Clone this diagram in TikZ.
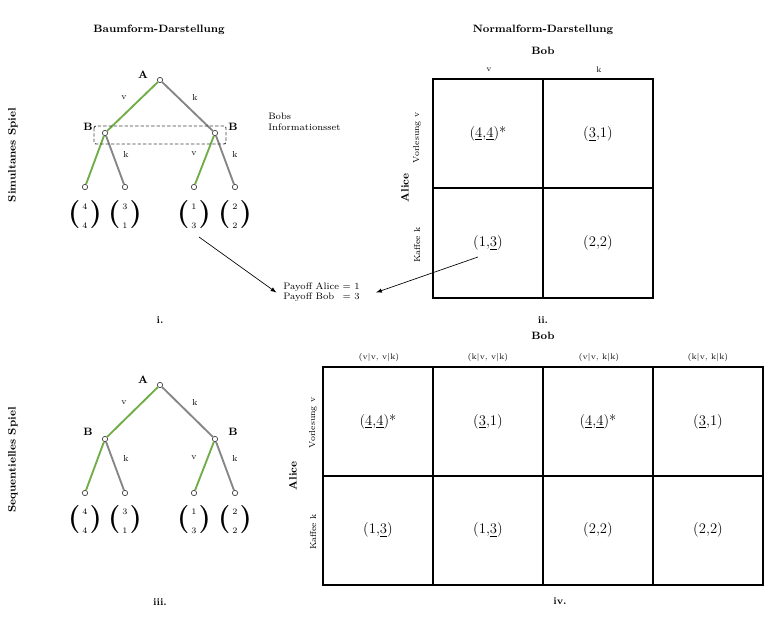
\documentclass[tikz,border=0pt]{standalone}
\usepackage{amsmath}
\usepackage{tikz}
\usetikzlibrary{arrows}
\usetikzlibrary{positioning}
\usetikzlibrary{calc}

\definecolor{astgruen}{RGB}{112,173,71}
\definecolor{astgrau}{RGB}{134,134,134}

\newcommand{\klammer}[1]{{\bfseries\fontsize{21}{21}\selectfont #1}}
\newcommand{\payvec}[2]{\klammer{(}\raisebox{3.7pt}{\fontsize{6.3}{14.2}\selectfont\begin{tabular}{@{\hspace{1.5pt}}c@{\hspace{1.5pt}}}#1\\#2\end{tabular}}\klammer{)}}

\tikzset{
  knoten/.style={circle, draw=black!75, fill=white, line width=0.5pt, inner sep=0pt, minimum size=4pt},
  gruen/.style={draw=astgruen, line width=1.4pt},
  grau/.style={draw=astgrau, line width=1.4pt},
  titel/.style={font=\bfseries\fontsize{8}{10}\selectfont},
  spieler/.style={font=\bfseries\fontsize{8}{10}\selectfont},
  zweig/.style={font=\fontsize{6.5}{8}\selectfont},
  klein/.style={font=\fontsize{7}{8.5}\selectfont},
  spalte/.style={font=\fontsize{6}{7}\selectfont},
  vektor/.style={inner sep=0pt},
  nummer/.style={font=\bfseries\fontsize{7.5}{9}\selectfont},
  zelle/.style={draw, line width=1.5pt, minimum width=82.5pt, minimum height=81.75pt, inner sep=0pt, font=\fontsize{11}{13}\selectfont},
  infoset/.style={draw=black!75, dash pattern=on 2.5pt off 1.5pt, line width=0.7pt, rounded corners=1.5pt},
  hinweis/.style={-latex, line width=0.5pt}
}

\begin{document}
\begin{tikzpicture}[x=0.75pt,y=0.75pt,yscale=-1,xscale=1]
\useasboundingbox (0,0) rectangle (768,631);

% Titles
\node[titel] (ttree) at (159,30) {Baumform-Darstellung};
\node[titel] (tnorm) at (543,30) {Normalform-Darstellung};
\node[titel, rotate=90] (tsim) at (13,155) {Simultanes Spiel};
\node[titel, rotate=90] (tseq) at (13,460) {Sequentielles Spiel};

%Simultanes Spiel: Baum
\node[knoten] (A1) at (160,80) {};
\node[knoten] (B11) at (105,133) {};
\node[knoten] (B12) at (215,133) {};
\node[knoten] (L11) at (85,187) {};
\node[knoten] (L12) at (125,187) {};
\node[knoten] (L13) at (194,187) {};
\node[knoten] (L14) at (235,187) {};
\draw[gruen] (A1) -- (B11);
\draw[grau] (A1) -- (B12);
\draw[gruen] (B11) -- (L11);
\draw[grau] (B11) -- (L12);
\draw[gruen] (B12) -- (L13);
\draw[grau] (B12) -- (L14);
% Informationsset
\draw[infoset] ($(B11)+(-11,-7)$) rectangle ($(B12)+(11,11)$);
\node[klein, anchor=west, align=left, inner sep=0pt] (tinfo) at (268,122) {Bobs\\Informationsset};
% Text Node
\node[spieler] (pA1) at (143,75) {A};
\node[spieler] (pB11) at (88,127) {B};
\node[spieler] (pB12) at (233,127) {B};
\node[zweig] (e11) at (124,98) {v};
\node[zweig] (e12) at (195,97) {k};
\node[zweig] (e14) at (126,154) {k};
\node[zweig] (e15) at (194,154) {v};
\node[zweig] (e16) at (235,154) {k};
\node[vektor] (v11) at (85,215) {\payvec{4}{4}};
\node[vektor] (v12) at (125,215) {\payvec{3}{1}};
\node[vektor] (v13) at (194,215) {\payvec{1}{3}};
\node[vektor] (v14) at (235,215) {\payvec{2}{2}};
\node[nummer] (n1) at (160,320) {i.};

%Simultanes Spiel: Normalform
\node[titel] (bob1) at (543,51) {Bob};
\node[zelle] (s11) at (488,134) {(\underline{4},\underline{4})*};
\node[zelle] (s12) at (598,134) {(\underline{3},1)};
\node[zelle] (s21) at (488,243) {(1,\underline{3})};
\node[zelle] (s22) at (598,243) {(2,2)};
\node[spalte] (c11) at (489,70) {v};
\node[spalte] (c12) at (599,70) {k};
\node[zweig, rotate=90] (r11) at (417,138) {Vorlesung v};
\node[zweig, rotate=90] (r12) at (417,245) {Kaffee k};
\node[spieler, rotate=90] (alice1) at (405,188) {Alice};
\node[nummer] (n2) at (543,320) {ii.};

% Payoff
\node[klein, anchor=west, inner sep=0pt] (pay) at (283,292.5) {\begin{tabular}{@{}l@{ }l@{}}Payoff Alice & = 1\\[-1pt] Payoff Bob & = 3\end{tabular}};
\draw[hinweis] ($(v13)+(5,22)$) -- ([xshift=-5pt]pay.west);
\draw[hinweis] ($(s21)+(-10,14)$) -- ([xshift=12pt]pay.east);

%Sequentielles Spiel: Baum
\node[knoten] (A2) at (160,385) {};
\node[knoten] (B21) at (105,439) {};
\node[knoten] (B22) at (215,439) {};
\node[knoten] (L21) at (85,493) {};
\node[knoten] (L22) at (125,493) {};
\node[knoten] (L23) at (194,493) {};
\node[knoten] (L24) at (235,493) {};
\draw[gruen] (A2) -- (B21);
\draw[grau] (A2) -- (B22);
\draw[gruen] (B21) -- (L21);
\draw[grau] (B21) -- (L22);
\draw[gruen] (B22) -- (L23);
\draw[grau] (B22) -- (L24);
% Text Node
\node[spieler] (pA2) at (143,380) {A};
\node[spieler] (pB21) at (88,432) {B};
\node[spieler] (pB22) at (233,432) {B};
\node[zweig] (e21) at (124,403) {v};
\node[zweig] (e22) at (195,402) {k};
\node[zweig] (e24) at (126,458) {k};
\node[zweig] (e25) at (194,458) {v};
\node[zweig] (e26) at (235,458) {k};
\node[vektor] (v21) at (85,520) {\payvec{4}{4}};
\node[vektor] (v22) at (125,520) {\payvec{3}{1}};
\node[vektor] (v23) at (194,520) {\payvec{1}{3}};
\node[vektor] (v24) at (235,520) {\payvec{2}{2}};
\node[nummer] (n3) at (160,602) {iii.};

%Sequentielles Spiel: Normalform
\node[titel] (bob2) at (543,336) {Bob};
\node[zelle] (t11) at (378,421.5) {(\underline{4},\underline{4})*};
\node[zelle] (t12) at (488,421.5) {(\underline{3},1)};
\node[zelle] (t13) at (598,421.5) {(\underline{4},\underline{4})*};
\node[zelle] (t14) at (708,421.5) {(\underline{3},1)};
\node[zelle] (t21) at (378,530) {(1,\underline{3})};
\node[zelle] (t22) at (488,530) {(1,\underline{3})};
\node[zelle] (t23) at (598,530) {(2,2)};
\node[zelle] (t24) at (708,530) {(2,2)};
\node[spalte] (d11) at (379,357) {(v|v, v|k)};
\node[spalte] (d12) at (488,357) {(k|v, v|k)};
\node[spalte] (d13) at (599,357) {(v|v, k|k)};
\node[spalte] (d14) at (708,357) {(k|v, k|k)};
\node[zweig, rotate=90] (r21) at (313,423) {Vorlesung v};
\node[zweig, rotate=90] (r22) at (313,532) {Kaffee k};
\node[spieler, rotate=90] (alice2) at (293,476) {Alice};
\node[nummer] (n4) at (560,601) {iv.};

\end{tikzpicture}
\end{document}
